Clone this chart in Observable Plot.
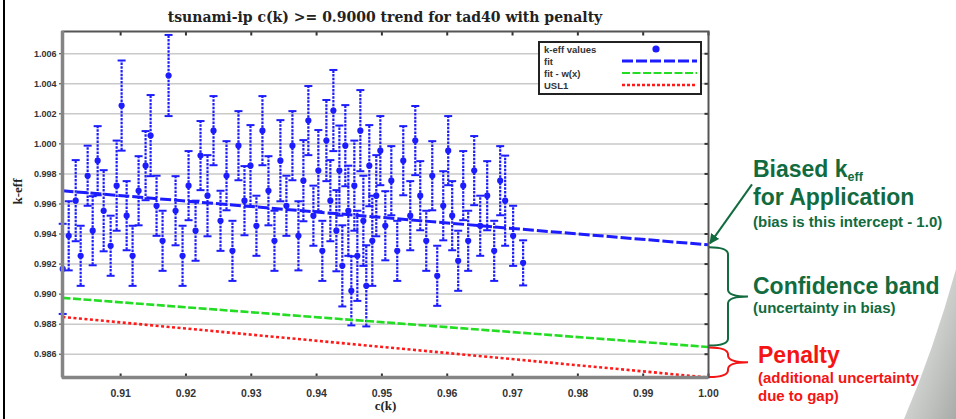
<!DOCTYPE html>
<html>
<head>
<meta charset="utf-8">
<script src="https://cdn.jsdelivr.net/npm/d3@7"></script>
<script src="https://cdn.jsdelivr.net/npm/@observablehq/plot@0.6"></script>
<style>
  body { margin: 0; background: #fff; }
  #wrap { position: relative; width: 956px; height: 419px; overflow: hidden; background: #fff; }
  #title { width: 770px; height: 28px; text-align: center; color: #222;
           font: bold 14px "DejaVu Serif", "Liberation Serif", serif; line-height: 34px; }
  #edge { position: absolute; left: 3px; top: 0; width: 2px; height: 419px; background: #000; }
  #deco { position: absolute; right: 0; bottom: 0; }
  #wrap svg.plot { display: block; }
</style>
</head>
<body>
<div id="wrap">
  <div id="edge"></div>
  <svg id="deco" width="70" height="150">
    <defs>
      <linearGradient id="swoosh" x1="0" y1="0" x2="1" y2="1">
        <stop offset="0" stop-color="#f6f6f6"/>
        <stop offset="1" stop-color="#a8aca8"/>
      </linearGradient>
    </defs>
    <path d="M70,0 Q48,80 18,150 L70,150 Z" fill="url(#swoosh)"/>
  </svg>
  <div id="title">tsunami-ip c(k) &gt;= 0.9000 trend for tad40 with penalty</div>
</div>
<script>
// c(k) similarity of each benchmark experiment
const ck = [
  0.90113, 0.90205, 0.90312, 0.90388, 0.90495, 0.90572, 0.90648, 0.90740, 0.90847, 0.90939,
  0.91015, 0.91092, 0.91183, 0.91275, 0.91382, 0.91459, 0.91550, 0.91642, 0.91734, 0.91841,
  0.91948, 0.92040, 0.92147, 0.92223, 0.92330, 0.92422, 0.92529, 0.92621, 0.92712, 0.92804,
  0.92896, 0.92988, 0.93079, 0.93171, 0.93263, 0.93355, 0.93446, 0.93538, 0.93630, 0.93722,
  0.93798, 0.93874, 0.93951, 0.94027, 0.94088, 0.94150, 0.94211, 0.94257, 0.94303, 0.94349,
  0.94394, 0.94440, 0.94486, 0.94532, 0.94578, 0.94624, 0.94670, 0.94716, 0.94761, 0.94807,
  0.94853, 0.94914, 0.94976, 0.95052, 0.95144, 0.95235, 0.95327, 0.95434, 0.95511, 0.95587,
  0.95679, 0.95771, 0.95847, 0.95939, 0.96015, 0.96076, 0.96168, 0.96245, 0.96321, 0.96413,
  0.96505, 0.96612, 0.96719, 0.96811, 0.96887, 0.97009, 0.97162
];
// calculated k-eff of each experiment
const keff = [
  0.99168, 0.99388, 0.99622, 0.99255, 0.99788, 0.99422, 0.99888, 0.99555, 0.99322, 0.99722,
  1.00255, 0.99522, 0.99255, 0.99688, 0.99855, 1.00055, 0.99588, 0.99355, 1.00455, 0.99555,
  0.99255, 0.99722, 0.99422, 0.99922, 0.99655, 1.00088, 0.99488, 0.99788, 0.99288, 0.99988,
  0.99622, 0.99855, 0.99455, 1.00088, 0.99688, 0.99355, 0.99888, 0.99588, 0.99988, 0.99388,
  0.99755, 1.00155, 0.99522, 0.99822, 0.99288, 1.00022, 0.99622, 1.00222, 0.99422, 0.99822,
  0.99188, 0.99988, 0.99555, 0.99022, 0.99722, 0.99255, 1.00088, 0.99488, 0.99055, 0.99855,
  0.99355, 0.99655, 0.99955, 0.99455, 0.99755, 0.99288, 0.99888, 0.99522, 1.00022, 0.99655,
  0.99355, 0.99788, 0.99122, 0.99588, 0.99955, 0.99522, 0.99222, 0.99722, 0.99355, 0.99822,
  0.99455, 0.99655, 0.99288, 0.99755, 0.99622, 0.99388, 0.99208
];
// one-sigma uncertainty of each k-eff
const sigma = [
  0.0030, 0.0023, 0.0027, 0.0020, 0.0020, 0.0023, 0.0023, 0.0027, 0.0020, 0.0030,
  0.0030, 0.0023, 0.0020, 0.0023, 0.0023, 0.0027, 0.0020, 0.0020, 0.0027, 0.0023,
  0.0020, 0.0023, 0.0020, 0.0023, 0.0027, 0.0023, 0.0020, 0.0023, 0.0020, 0.0023,
  0.0023, 0.0027, 0.0020, 0.0023, 0.0023, 0.0020, 0.0027, 0.0020, 0.0023, 0.0023,
  0.0027, 0.0023, 0.0020, 0.0027, 0.0020, 0.0027, 0.0027, 0.0027, 0.0027, 0.0030,
  0.0027, 0.0027, 0.0030, 0.0023, 0.0030, 0.0030, 0.0027, 0.0030, 0.0027, 0.0027,
  0.0030, 0.0027, 0.0023, 0.0023, 0.0023, 0.0020, 0.0023, 0.0023, 0.0023, 0.0023,
  0.0020, 0.0023, 0.0020, 0.0023, 0.0023, 0.0023, 0.0020, 0.0023, 0.0020, 0.0023,
  0.0020, 0.0023, 0.0020, 0.0023, 0.0030, 0.0020, 0.0015
];

// trend lines: end points at the lowest c(k) and at c(k) = 1.0
const trendC = [0.9011, 1.0];
const fitK = [0.99688, 0.99328];      // linear fit
const fitLowerK = [0.98975, 0.98648]; // fit - w(x)
const uslK = [0.98848, 0.98445];      // USL1 (with penalty)

const xTicks = [0.91, 0.92, 0.93, 0.94, 0.95, 0.96, 0.97, 0.98, 0.99, 1.00];
const yTicks = [0.986, 0.988, 0.990, 0.992, 0.994, 0.996, 0.998, 1.000, 1.002, 1.004, 1.006];
const legendLabels = ["k-eff values", "fit", "fit - w(x)", "USL1"];

const xDomain = [0.9011, 1.0];
const yDomain = [0.98445, 1.00748];

const BLUE = "#1c1cff", GREEN = "#22dd22", RED = "#ff1a1a";
const TEXT_GREEN = "#116b3e", TEXT_RED = "#f51414";

const points = ck.map((c, i) => ({c, k: keff[i], s: sigma[i]}));
const trend = trendC.map((c, i) => ({c, fit: fitK[i], lower: fitLowerK[i], usl: uslK[i]}));

// small glyphs for error-bar caps and inward tick marks
const sz = size => Math.sqrt(size / Math.PI);
const capSym = {draw(ctx, size) { const w = sz(size); ctx.moveTo(-w, 0); ctx.lineTo(w, 0); }};
const upTick = {draw(ctx, size) { const w = sz(size); ctx.moveTo(0, 0); ctx.lineTo(0, -w); }};
const downTick = {draw(ctx, size) { const w = sz(size); ctx.moveTo(0, 0); ctx.lineTo(0, w); }};
const leftTick = {draw(ctx, size) { const w = sz(size); ctx.moveTo(0, 0); ctx.lineTo(-w, 0); }};

const serif = '"Liberation Serif", "DejaVu Serif", serif';
const sans = '"Liberation Sans", Arial, sans-serif';

const plot = Plot.plot({
  width: 956,
  height: 391,
  marginLeft: 62,
  marginRight: 248,
  marginTop: 3,
  marginBottom: 42,
  x: {domain: xDomain},
  y: {domain: yDomain},
  style: {background: "transparent", fontFamily: sans},
  marks: [
    Plot.gridY(yTicks, {stroke: "#c9c9c9", strokeOpacity: 1, strokeWidth: 1.5}),
    // error bars
    Plot.ruleX(points, {x: "c", y1: d => d.k - d.s, y2: d => d.k + d.s,
      stroke: BLUE, strokeWidth: 2.2, strokeDasharray: "2.5,1.2"}),
    Plot.dot(points, {x: "c", y: d => d.k - d.s, symbol: capSym, r: 4, fill: "none", stroke: BLUE, strokeWidth: 2}),
    Plot.dot(points, {x: "c", y: d => d.k + d.s, symbol: capSym, r: 4, fill: "none", stroke: BLUE, strokeWidth: 2}),
    Plot.dot(points, {x: "c", y: "k", r: 3.1, fill: BLUE}),
    // trend lines
    Plot.line(trend, {x: "c", y: "usl", stroke: RED, strokeWidth: 2.6, strokeDasharray: "3,2.5", strokeLinecap: "butt"}),
    Plot.line(trend, {x: "c", y: "lower", stroke: GREEN, strokeWidth: 2.6, strokeDasharray: "8,2.5", strokeLinecap: "butt"}),
    Plot.line(trend, {x: "c", y: "fit", stroke: BLUE, strokeWidth: 3, strokeDasharray: "11,3", strokeLinecap: "butt"}),
    // axes
    Plot.axisX(xTicks, {anchor: "bottom", tickSize: 0, tickPadding: 12, tickFormat: d3.format(".2f"),
      fontSize: 10.5, fontWeight: "bold", fill: "#333", label: null}),
    Plot.axisY(yTicks, {anchor: "left", tickSize: 3, tickPadding: 3, tickFormat: d3.format(".3f"),
      fontSize: 9, fontWeight: "bold", fill: "#333", stroke: "#333", label: null}),
    Plot.dot(xTicks, {x: d => d, y: () => yDomain[0], symbol: upTick, r: 4, stroke: "#333", strokeWidth: 2}),
    Plot.dot(xTicks, {x: d => d, y: () => yDomain[1], symbol: downTick, r: 4, stroke: "#333", strokeWidth: 2}),
    Plot.dot(yTicks, {x: () => xDomain[1], y: d => d, symbol: leftTick, r: 4, stroke: "#333", strokeWidth: 2}),
    Plot.frame({stroke: "#555", strokeWidth: 2}),
    Plot.ruleX([xDomain[0]], {stroke: "#858585", strokeWidth: 3.5}),
    Plot.ruleY([yDomain[0]], {stroke: "#858585", strokeWidth: 3.5}),
    // axis titles
    Plot.text(["k-eff"], {frameAnchor: "left", dx: -45, rotate: -90, fontSize: 13, fontWeight: "bold",
      fontFamily: serif, fill: "#222"}),
    Plot.text(["c(k)"], {frameAnchor: "bottom", dy: 32, fontSize: 13, fontWeight: "bold",
      fontFamily: serif, fill: "#222"})
  ]
});
plot.classList.add("plot");
document.getElementById("wrap").appendChild(plot);

const svg = d3.select(plot);
const X = plot.scale("x"), Y = plot.scale("y");

// legend box inside the top-right of the frame
const lg = svg.append("g").attr("font-family", sans).attr("font-size", 9.5).attr("font-weight", "bold")
  .attr("fill", "#333").attr("text-anchor", "start");
lg.append("rect").attr("x", 539).attr("y", 14).attr("width", 162).attr("height", 52)
  .attr("fill", "#fff").attr("stroke", "#222").attr("stroke-width", 2);
const legendStyles = [
  null,
  {stroke: BLUE, w: 3, dash: "11,3"},
  {stroke: GREEN, w: 2.2, dash: "8,2.5"},
  {stroke: RED, w: 2.4, dash: "3,2"}
];
legendLabels.forEach((label, i) => {
  const cy = 21 + 12 * i;
  lg.append("text").attr("x", 544).attr("y", cy + 3.5).text(label);
  const st = legendStyles[i];
  if (!st) {
    lg.append("circle").attr("cx", 656).attr("cy", cy).attr("r", 3.6).attr("fill", BLUE);
  } else {
    lg.append("line").attr("x1", 622).attr("x2", 697).attr("y1", cy).attr("y2", cy)
      .attr("stroke", st.stroke).attr("stroke-width", st.w).attr("stroke-dasharray", st.dash);
  }
});

// annotations to the right of the frame
const xr = X.apply(xDomain[1]);
const yFit = Y.apply(fitK[1]), yLow = Y.apply(fitLowerK[1]), yUsl = Y.apply(uslK[1]);
const ann = svg.append("g").attr("font-family", sans).attr("font-weight", "bold").attr("text-anchor", "start");

svg.append("defs").append("marker").attr("id", "ah").attr("viewBox", "0 0 10 10")
  .attr("refX", 9).attr("refY", 5).attr("markerWidth", 5).attr("markerHeight", 5).attr("orient", "auto")
  .append("path").attr("d", "M0,0 L10,5 L0,10 Z").attr("fill", TEXT_GREEN);
ann.append("line").attr("x1", xr + 44).attr("y1", yFit - 60).attr("x2", xr + 2).attr("y2", yFit - 1)
  .attr("stroke", TEXT_GREEN).attr("stroke-width", 2).attr("marker-end", "url(#ah)");

function brace(y1, y2, color) {
  const x0 = xr + 1, xv = xr + 20, xt = xr + 40, r = 7, ym = (y1 + y2) / 2;
  const d = `M${x0},${y1} Q${xv},${y1} ${xv},${y1 + r} L${xv},${ym - r} Q${xv},${ym} ${xt},${ym}`
          + ` Q${xv},${ym} ${xv},${ym + r} L${xv},${y2 - r} Q${xv},${y2} ${x0},${y2}`;
  ann.append("path").attr("d", d).attr("fill", "none").attr("stroke", color).attr("stroke-width", 2);
}
brace(yFit + 3, yLow - 1, TEXT_GREEN);
brace(yLow + 1, yUsl, TEXT_RED);

const tx = xr + 45;
const big = 23, small = 15;
const t1 = ann.append("text").attr("x", tx).attr("y", 149).attr("fill", TEXT_GREEN).attr("font-size", big);
t1.append("tspan").text("Biased k");
t1.append("tspan").attr("font-size", 12.5).attr("dy", 3.5).text("eff");
ann.append("text").attr("x", tx).attr("y", 176.5).attr("fill", TEXT_GREEN).attr("font-size", big).text("for Application");
ann.append("text").attr("x", tx).attr("y", 198.5).attr("fill", TEXT_GREEN).attr("font-size", small).text("(bias is this intercept - 1.0)");
ann.append("text").attr("x", tx).attr("y", 266).attr("fill", TEXT_GREEN).attr("font-size", big).text("Confidence band");
ann.append("text").attr("x", tx).attr("y", 285).attr("fill", TEXT_GREEN).attr("font-size", small).text("(uncertainty in bias)");
ann.append("text").attr("x", tx + 5).attr("y", 335).attr("fill", TEXT_RED).attr("font-size", big).text("Penalty");
ann.append("text").attr("x", tx + 5).attr("y", 355).attr("fill", TEXT_RED).attr("font-size", small).text("(additional uncertainty");
ann.append("text").attr("x", tx + 5).attr("y", 373).attr("fill", TEXT_RED).attr("font-size", small).text("due to gap)");
</script>
</body>
</html>
